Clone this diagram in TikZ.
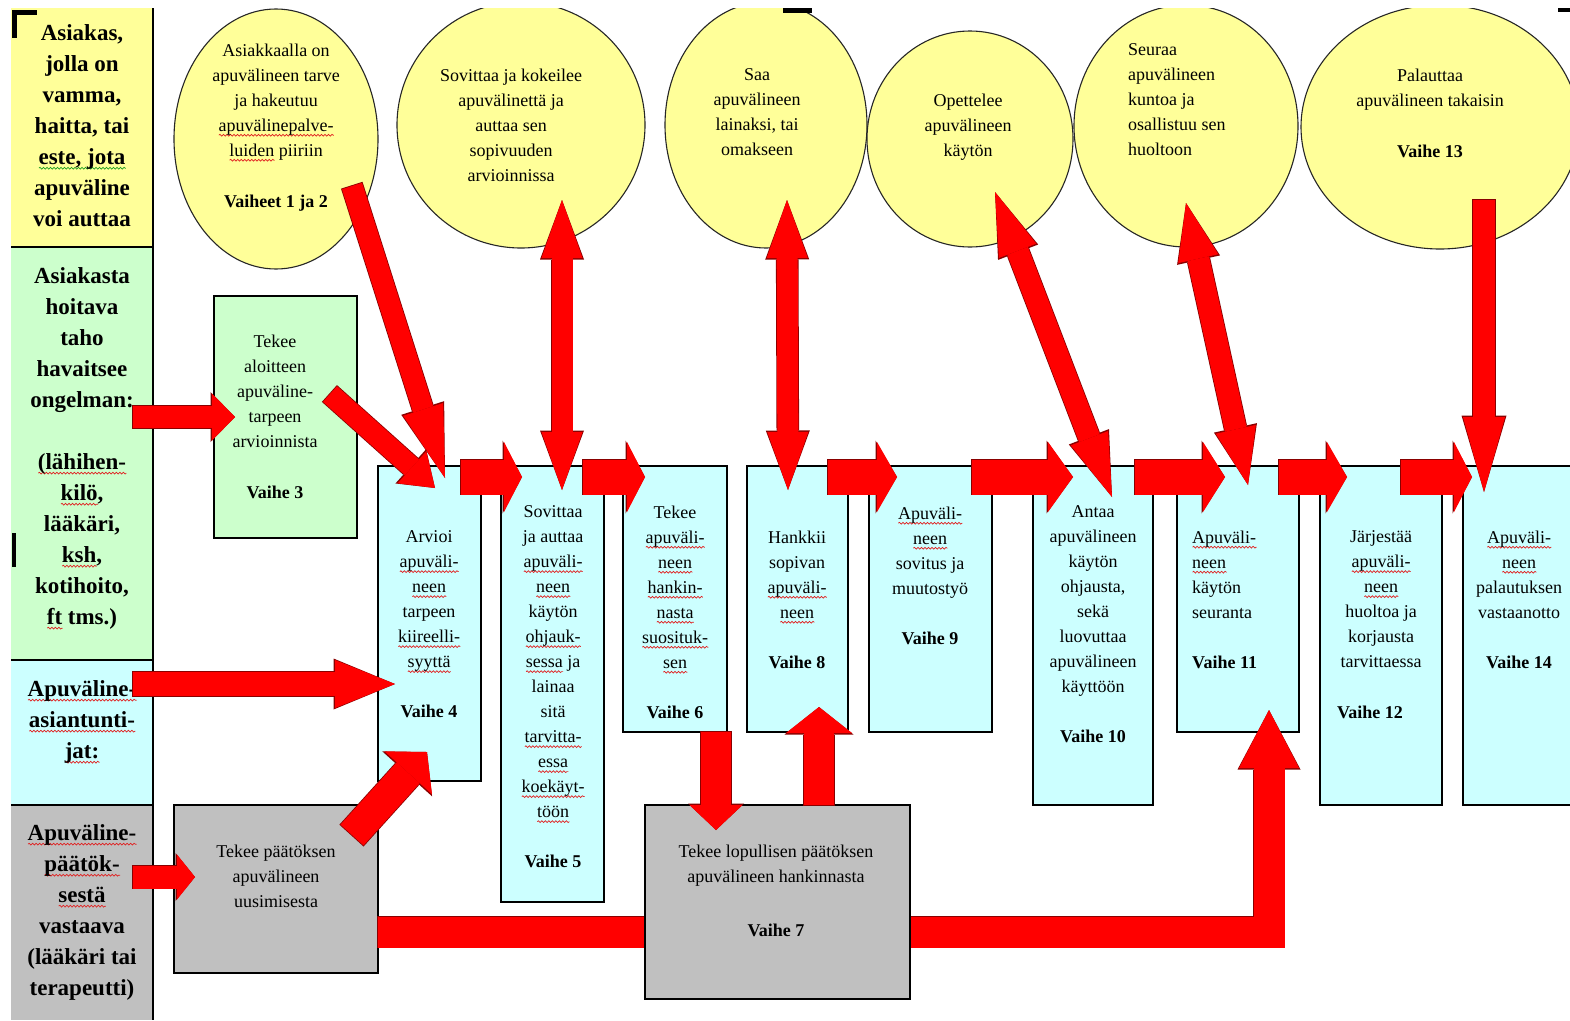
\documentclass[tikz,border=0pt]{standalone}
\usepackage{fontspec}
\setmainfont{LiberationSerif}[Extension=.ttf, UprightFont=*-Regular, BoldFont=*-Bold, ItalicFont=*-Italic, BoldItalicFont=*-BoldItalic]
\usetikzlibrary{arrows.meta,calc,shapes.geometric,decorations.pathmorphing}

\definecolor{paleyellow}{HTML}{FFFF99}
\definecolor{palegreen}{HTML}{CCFFCC}
\definecolor{palecyan}{HTML}{CCFFFF}
\definecolor{panelgray}{HTML}{C0C0C0}
\definecolor{arrowred}{HTML}{FF0000}
\definecolor{arrowedge}{HTML}{8A0000}
\definecolor{spellred}{HTML}{E02020}
\definecolor{spellgreen}{HTML}{20A020}

% wavy spell-check underlines
\newlength\sqwd
\newcommand\squig[2]{\settowidth\sqwd{#2}\leavevmode\rlap{\raisebox{-4pt}[0pt][0pt]{\tikz[baseline=0pt]\draw[#1, line width=0.7pt, decorate, decoration={snake, amplitude=0.9pt, segment length=3.5pt}] (0pt,0pt) -- (\the\sqwd,0pt);}}#2}
\newcommand\rw[1]{\squig{spellred}{#1}}
\newcommand\gw[1]{\squig{spellgreen}{#1}}

\tikzset{
  cell/.style={rectangle, inner sep=0pt, outer sep=0pt, anchor=north west},
  stagebox/.style={rectangle, draw=black, line width=1.2pt, inner sep=0pt, outer sep=0pt, anchor=north west},
  bubble/.style={ellipse, draw=black!85, line width=1.1pt, fill=paleyellow, inner sep=0pt, outer sep=0pt},
  coltext/.style={align=center, inner sep=0pt, anchor=north, font=\fontsize{23}{31}\selectfont\bfseries},
  bodytext/.style={align=center, inner sep=0pt, anchor=north, font=\fontsize{18}{25}\selectfont},
  lefttext/.style={align=left, inner sep=0pt, anchor=north west, font=\fontsize{18}{25}\selectfont},
  % block arrow: shaft width, head width, head length
  blk/.style n args={3}{
    /utils/exec={\pgfmathsetlengthmacro\edgeW{#1+1.6pt}\pgfmathsetlengthmacro\edgeHW{#2+3pt}\pgfmathsetlengthmacro\edgeHL{#3+1.5pt}},
    draw=arrowred, line width=#1, -{Triangle[width=#2,length=#3,line width=0pt]},
    preaction={draw=arrowedge, line width=\edgeW, shorten <=-0.8pt,
      -{Triangle[width=\edgeHW,length=\edgeHL,line width=0pt]}}
  },
  blkk/.style n args={3}{
    /utils/exec={\pgfmathsetlengthmacro\edgeW{#1+1.6pt}\pgfmathsetlengthmacro\edgeHW{#2+3pt}\pgfmathsetlengthmacro\edgeHL{#3+1.5pt}},
    draw=arrowred, line width=#1,
    {Triangle[width=#2,length=#3,line width=0pt]}-{Triangle[width=#2,length=#3,line width=0pt]},
    preaction={draw=arrowedge, line width=\edgeW,
      {Triangle[width=\edgeHW,length=\edgeHL,line width=0pt]}-{Triangle[width=\edgeHW,length=\edgeHL,line width=0pt]}}
  }
}

\begin{document}
\begin{tikzpicture}[x=1pt,y=-1pt]
\useasboundingbox (0,0) rectangle (1570,1020);
\fill[white] (0,0) rectangle (1570,1020);

% ---- role column ----
\node[cell, fill=paleyellow, minimum width=142pt, minimum height=239pt] (lc1) at (11,8) {};
\node[cell, fill=palegreen,  minimum width=142pt, minimum height=413pt] (lc2) at (11,247) {};
\node[cell, fill=palecyan,   minimum width=142pt, minimum height=145pt] (lc3) at (11,660) {};
\node[cell, fill=panelgray,  minimum width=142pt, minimum height=215pt] (lc4) at (11,805) {};
\draw[line width=1.2pt] (lc1.north east) -- (lc4.south east);
\draw[line width=1.2pt] (lc1.south west) -- (lc1.south east);
\draw[line width=1.2pt] (lc2.south west) -- (lc2.south east);
\draw[line width=1.2pt] (lc3.south west) -- (lc3.south east);

\node[coltext] (lc1t) at (82,24) {Asiakas,\\ jolla on\\ vamma,\\ haitta, tai\\ \gw{este, jota}\\ apuväline\\ voi auttaa};
\node[coltext] (lc2t) at (82,267) {Asiakasta\\ hoitava\\ taho\\ havaitsee\\ ongelman:\\[31pt] \rw{(lähihen-}\\ \rw{kilö},\\ lääkäri,\\ \rw{ksh},\\ kotihoito,\\ \rw{ft} tms.)};
\node[coltext] (lc3t) at (82,680) {\rw{Apuväline-}\\ \rw{asiantunti-}\\ \rw{jat:}};
\node[coltext] (lc4t) at (82,824) {\rw{Apuväline-}\\ \rw{päätök-}\\ \rw{sestä}\\ vastaava\\ (lääkäri tai\\ terapeutti)};

% ---- client bubbles ----
\begin{scope}
\clip (0,8) rectangle (1570,1020);
\node[bubble, minimum width=204pt, minimum height=260pt] (c1) at (276,139) {};
\node[bubble, minimum width=248pt, minimum height=246pt] (c2) at (521,125) {};
\node[bubble, minimum width=202pt, minimum height=246pt] (c3) at (766,125) {};
\node[bubble, minimum width=206pt, minimum height=216pt] (c4) at (970,139) {};
\node[bubble, minimum width=224pt, minimum height=242pt] (c5) at (1186,126) {};
\node[bubble, minimum width=278pt, minimum height=244pt] (c6) at (1440,127) {};
\end{scope}

\node[bodytext] (c1t) at (276,43.5) {Asiakkaalla on\\ apuvälineen tarve\\ ja hakeutuu\\ \rw{apuvälinepalve-}\\ \rw{luiden} piiriin\\[26pt] \textbf{Vaiheet 1 ja 2}};
\node[bodytext] (c2t) at (511,68.5) {Sovittaa ja kokeilee\\ apuvälinettä ja\\ auttaa sen\\ sopivuuden\\ arvioinnissa};
\node[bodytext] (c3t) at (757,68.5) {Saa\\ apuvälineen\\ lainaksi, tai\\ omakseen};
\node[bodytext] (c4t) at (968,93.5) {Opettelee\\ apuvälineen\\ käytön};
\node[lefttext] (c5t) at (1128,43.5) {Seuraa\\ apuvälineen\\ kuntoa ja\\ osallistuu sen\\ huoltoon};
\node[bodytext] (c6t) at (1430,68.5) {Palauttaa\\ apuvälineen takaisin\\[26pt] \textbf{Vaihe 13}};

% ---- stage boxes ----
\node[stagebox, fill=palegreen, minimum width=143pt, minimum height=242pt] (v3) at (214,296) {};
\node[stagebox, fill=palecyan, minimum width=103pt, minimum height=315pt] (v4) at (378,466) {};
\node[stagebox, fill=palecyan, minimum width=103pt, minimum height=436pt] (v5) at (501,466) {};
\node[stagebox, fill=palecyan, minimum width=104pt, minimum height=266pt] (v6) at (623,466) {};
\node[stagebox, fill=palecyan, minimum width=101pt, minimum height=266pt] (v8) at (747,466) {};
\node[stagebox, fill=palecyan, minimum width=123pt, minimum height=266pt] (v9) at (869,466) {};
\node[stagebox, fill=palecyan, minimum width=120pt, minimum height=339pt] (v10) at (1033,466) {};
\node[stagebox, fill=palecyan, minimum width=122pt, minimum height=266pt] (v11) at (1177,466) {};
\node[stagebox, fill=palecyan, minimum width=122pt, minimum height=339pt] (v12) at (1320,466) {};
\node[stagebox, fill=palecyan, minimum width=117pt, minimum height=339pt] (v14) at (1463,466) {};
\node[stagebox, fill=panelgray, minimum width=204pt, minimum height=168pt] (g1) at (174,805) {};

\node[bodytext] (v3t) at (275,334.5) {Tekee\\ aloitteen\\ apuväline-\\ tarpeen\\ arvioinnista\\[26pt] \textbf{Vaihe 3}};
\node[bodytext] (v4t) at (429,530.5) {Arvioi\\ \rw{apuväli-}\\ \rw{neen}\\ tarpeen\\ \rw{kiireelli-}\\ \rw{syyttä}\\[25pt] \textbf{Vaihe 4}};
\node[bodytext] (v5t) at (553,505.5) {Sovittaa\\ ja auttaa\\ \rw{apuväli-}\\ \rw{neen}\\ käytön\\ \rw{ohjauk-}\\ \rw{sessa} ja\\ lainaa\\ sitä\\ \rw{tarvitta-}\\ \rw{essa}\\ \rw{koekäyt-}\\ \rw{töön}\\[25pt] \textbf{Vaihe 5}};
\node[bodytext] (v6t) at (675,505.5) {Tekee\\ \rw{apuväli-}\\ \rw{neen}\\ \rw{hankin-}\\ \rw{nasta}\\ \rw{suosituk-}\\ \rw{sen}\\[25pt] \textbf{Vaihe 6}};
\node[bodytext] (v8t) at (797,530.5) {Hankkii\\ sopivan\\ \rw{apuväli-}\\ \rw{neen}\\[25pt] \textbf{Vaihe 8}};
\node[bodytext] (v9t) at (930,506.5) {\rw{Apuväli-}\\ \rw{neen}\\ sovitus ja\\ muutostyö\\[25pt] \textbf{Vaihe 9}};
\node[bodytext] (v10t) at (1093,505.5) {Antaa\\ apuvälineen\\ käytön\\ ohjausta,\\ sekä\\ luovuttaa\\ apuvälineen\\ käyttöön\\[25pt] \textbf{Vaihe 10}};
\node[lefttext] (v11t) at (1192,530.5) {\rw{Apuväli-}\\ \rw{neen}\\ käytön\\ seuranta\\[25pt] \textbf{Vaihe 11}};
\node[bodytext] (v12t) at (1381,530.5) {Järjestää\\ \rw{apuväli-}\\ \rw{neen}\\ huoltoa ja\\ korjausta\\ tarvittaessa\\[26pt] \hspace*{-22pt}\textbf{Vaihe 12}};
\node[bodytext] (v14t) at (1519,530.5) {\rw{Apuväli-}\\ \rw{neen}\\ palautuksen\\ vastaanotto\\[25pt] \textbf{Vaihe 14}};
\node[bodytext] (g1t) at (276,844.5) {Tekee päätöksen\\ apuvälineen\\ uusimisesta};

% ---- long connector under the final decision box ----
\draw[blk={31pt}{60pt}{58pt}] ($(g1.south east)+(0,-41)$) -| ($(v11.south)+(31,-22)$);

\node[stagebox, fill=panelgray, minimum width=265pt, minimum height=194pt] (g7) at (645,805) {};
\node[bodytext] (g7t) at (776,844.5) {Tekee lopullisen päätöksen\\ apuvälineen hankinnasta\\[29pt] \textbf{Vaihe 7}};

% ---- arrows from the role column ----
\draw[blk={22pt}{47pt}{23pt}] ($(lc2.east |- v3.west)+(-20,0)$) -- ($(v3.west)+(21,0)$);
\draw[blk={24pt}{48pt}{60pt}] ($(lc3.north east)+(-20,24)$) -- ($(v4.north west)+(17,218)$);
\draw[blk={23pt}{45pt}{18pt}] ($(lc4.north east)+(-20,72)$) -- ($(g1.north west)+(21,72)$);

% ---- arrows into stage 4 ----
\draw[blk={21pt}{42pt}{72pt}] ($(c1.center)+(76,47)$) -- ($(v4.north west)+(67,12)$);
\draw[blk={21pt}{43pt}{31pt}] ($(v3.north east)+(-27,98)$) -- ($(v4.north west)+(57,22)$);
\draw[blk={31pt}{64pt}{28pt}] ($(g1.north east)+(-26,30)$) -- ($(v4.south west)+(49,-29)$);

% ---- flow along the top of the stage boxes ----
\draw[blk={35pt}{70pt}{18pt}] ($(v4.north east)+(-20,11)$) -- ($(v5.north west)+(21,11)$);
\draw[blk={35pt}{70pt}{18pt}] ($(v5.north east)+(-21,11)$) -- ($(v6.north west)+(22,11)$);
\draw[blk={35pt}{70pt}{20pt}] ($(v8.north east)+(-20,11)$) -- ($(v9.north west)+(28,11)$);
\draw[blk={35pt}{70pt}{25pt}] ($(v9.north east)+(-20,11)$) -- ($(v10.north west)+(40,11)$);
\draw[blk={35pt}{70pt}{22pt}] ($(v10.north east)+(-18,11)$) -- ($(v11.north west)+(48,11)$);
\draw[blk={35pt}{70pt}{20pt}] ($(v11.north east)+(-20,11)$) -- ($(v12.north west)+(27,11)$);
\draw[blk={35pt}{70pt}{18pt}] ($(v12.north east)+(-41,11)$) -- ($(v14.north west)+(9,11)$);

% ---- links between bubbles and stages ----
\draw[blkk={21pt}{41pt}{58pt}] ($(c2.south)+(41,-48)$) -- ($(v5.north)+(9.5,24)$);
\draw[blkk={21pt}{41pt}{58pt}] ($(c3.south)+(21,-48)$) -- ($(v8.north)+(-9.5,24)$);
\draw[blkk={22pt}{40pt}{63pt}] ($(c4.south)+(25,-55)$) -- ($(v10.north)+(19,31)$);
\draw[blkk={22pt}{41pt}{57pt}] ($(c5.south)+(0,-44)$) -- ($(v11.north)+(10,19)$);
\draw[blk={22pt}{42pt}{75pt}] ($(c6.south)+(44,-49)$) -- ($(v14.north west)+(21,26)$);

% ---- decision loop ----
\draw[blk={30pt}{53pt}{25pt}] ($(v6.south)+(41,0)$) -- ($(g7.north west)+(71,25)$);
\draw[blk={30pt}{66pt}{26pt}] ($(g7.north west)+(174,0)$) -- ($(v8.south)+(21.5,-25)$);

% ---- small black corner marks ----
\fill[black] (12,10) rectangle (37,15);
\fill[black] (12,10) rectangle (17,38);
\fill[black] (12,533) rectangle (16,567);
\fill[black] (783,8) rectangle (812,13);
\fill[black] (1558,8) rectangle (1570,12);
\end{tikzpicture}
\end{document}
